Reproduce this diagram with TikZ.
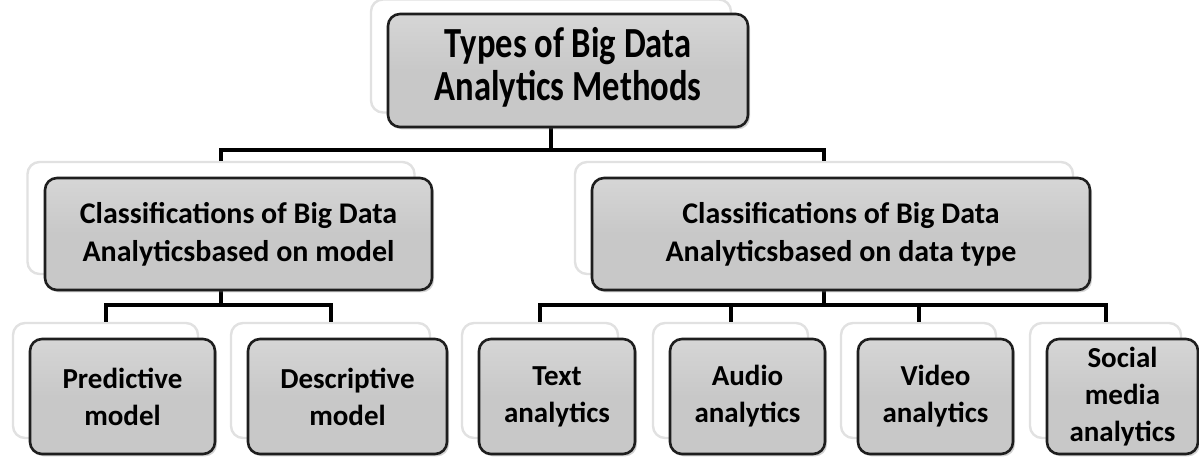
\documentclass[tikz,border=0pt]{standalone}
\usepackage{fontspec}
\usepackage{graphicx}
\setmainfont{Carlito}
\usetikzlibrary{shadows}
\definecolor{boxgray}{RGB}{200,200,200}
\definecolor{boxedge}{RGB}{30,30,30}
\definecolor{cardedge}{RGB}{225,225,225}
\newcommand{\tallstack}[1]{\scalebox{1}[1.24]{\begin{tabular}{@{}c@{}}#1\end{tabular}}}
\tikzset{
  sz/.style 2 args={minimum width=#1*0.5pt, minimum height=#2*0.5pt},
  card/.style={draw=cardedge, fill=white, line width=1.2pt, rounded corners=6pt, inner sep=0pt},
  gbox/.style={draw=boxedge, line width=1.3pt, rounded corners=6pt,
    top color=boxgray!75, bottom color=boxgray, middle color=boxgray,
    drop shadow={opacity=0.35, shadow xshift=1pt, shadow yshift=-1.2pt},
    align=center, font=\bfseries, inner sep=2pt},
  bigtxt/.style={font=\fontsize{17.3}{17.4}\selectfont\bfseries},
  midtxt/.style={font=\fontsize{15}{19}\selectfont\bfseries},
  smtxt/.style={font=\fontsize{14.5}{18.5}\selectfont\bfseries},
  conn/.style={line width=2pt, black}
}
\begin{document}
\begin{tikzpicture}[x=0.5pt,y=-0.5pt]
\useasboundingbox (0,0) rectangle (1199,459);
% cards behind
\node[card, sz={360}{113}] (tc) at (551,56) {};
\node[card, sz={387}{112}] (lc) at (221,218) {};
\node[card, sz={498}{112}] (rc) at (824,218) {};
\node[card, sz={185}{115}] (pc) at (105.5,380.5) {};
\node[card, sz={199}{115}] (dc) at (330.5,380.5) {};
\node[card, sz={156}{115}] (xc) at (540,380.5) {};
\node[card, sz={155}{115}] (ac) at (730.5,380.5) {};
\node[card, sz={155}{115}] (vc) at (918.5,380.5) {};
\node[card, sz={151}{115}] (sc) at (1105.5,380.5) {};
% bus coordinates
\coordinate (bus1) at (0,150);
\coordinate (bus2) at (0,305);
% connectors
\draw[conn] (tc.south) -- (tc.south |- bus1) -| (lc.north);
\draw[conn] (tc.south |- bus1) -| (rc.north);
\draw[conn] (lc.south) -- (lc.south |- bus2) -| (pc.north);
\draw[conn] (lc.south |- bus2) -| (dc.north);
\draw[conn] (rc.south) -- (rc.south |- bus2) -| (xc.north);
\draw[conn] (rc.south |- bus2) -| (sc.north);
\draw[conn] (ac.north |- bus2) -- (ac.north);
\draw[conn] (vc.north |- bus2) -- (vc.north);
% boxes
\node[gbox, bigtxt, sz={360}{113}] (top) at (568,70.5) {\tallstack{Types of Big Data\\Analytics Methods}};
\node[gbox, midtxt, sz={387}{112}] (left) at (238.5,234) {Classifications of Big Data\\Analyticsbased on model};
\node[gbox, midtxt, sz={498}{112}] (right) at (841,234) {Classifications of Big Data\\Analyticsbased on data type};
\node[gbox, smtxt, sz={185}{115}] (pred) at (122.5,396.5) {Predictive\\model};
\node[gbox, smtxt, sz={199}{115}] (desc) at (347.5,396.5) {Descriptive\\model};
\node[gbox, smtxt, sz={156}{115}] (text) at (557,396.5) {Text\\analytics};
\node[gbox, smtxt, sz={155}{115}] (audio) at (747.5,396.5) {Audio\\analytics};
\node[gbox, smtxt, sz={155}{115}] (video) at (935.5,396.5) {Video\\analytics};
\node[gbox, smtxt, sz={151}{115}, inner sep=0pt] (social) at (1122.5,396.5) {Social\\media\\analytics};
\end{tikzpicture}
\end{document}
